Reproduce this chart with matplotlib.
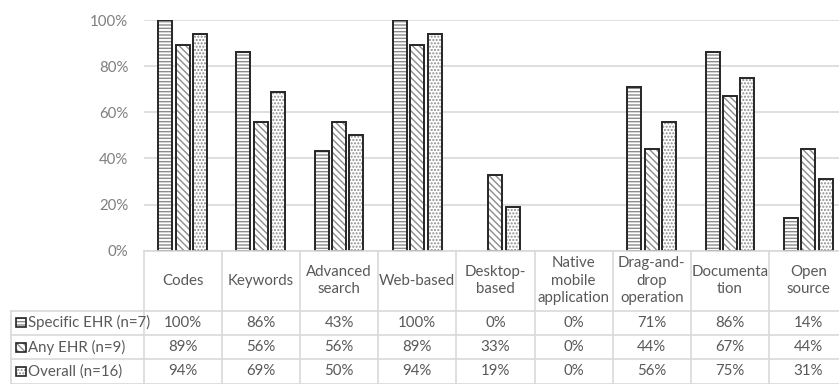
import matplotlib
matplotlib.use("Agg")
import matplotlib.pyplot as plt
import numpy as np
from matplotlib.patches import Rectangle
from matplotlib.lines import Line2D
from matplotlib.transforms import blended_transform_factory

plt.rcParams['font.family'] = ['Lato', 'DejaVu Sans']
plt.rcParams['hatch.linewidth'] = 1.0

categories = ["Codes", "Keywords", "Advanced\nsearch", "Web-based", "Desktop-\nbased",
              "Native\nmobile\napplication", "Drag-and-\ndrop\noperation",
              "Documenta\ntion", "Open\nsource"]
series_names = ["Specific EHR (n=7)", "Any EHR (n=9)", "Overall (n=16)"]
specific = [100, 86, 43, 100, 0, 0, 71, 86, 14]
any_ehr = [89, 56, 56, 89, 33, 0, 44, 67, 44]
overall = [94, 69, 50, 94, 19, 0, 56, 75, 31]
yticks = [0, 20, 40, 60, 80, 100]

W, H = 839, 384
fs = 10.8
hatches = ['-----', '\\\\\\\\\\', '.....']
hatch_col = '#8c8c8c'
edge_col = '#262626'
grid_col = '#d9d9d9'
txt_col = '#595959'

fig = plt.figure(figsize=(W / 100, H / 100), dpi=100)
ax = fig.add_axes([143.5 / W, 1 - 250.7 / H, 9 * 78.2 / W, (250.7 - 20) / H])

x = np.arange(len(categories))
pitch, width = 0.222, 0.18
for k, vals in enumerate([specific, any_ehr, overall]):
    vals = np.array(vals) / 100
    pos = x + (k - 1) * pitch
    lw = [0 if v == 0 else 1.4 for v in vals]
    ax.bar(pos, vals, width, color='white', edgecolor=hatch_col, hatch=hatches[k],
           linewidth=0, zorder=2)
    ax.bar(pos, vals, width, fill=False, edgecolor=edge_col, linewidth=lw, zorder=3)

ax.set_xlim(-0.5, len(categories) - 0.5)
ax.set_ylim(0, 1)
ax.set_yticks([t / 100 for t in yticks])
ax.set_yticklabels([f"{t}%" for t in yticks])
ax.tick_params(axis='y', length=0, pad=11, labelsize=fs, labelcolor='#7f7f7f')
ax.set_xticks([])
ax.grid(axis='y', color=grid_col, linewidth=1.2, zorder=0)
for s in ax.spines.values():
    s.set_visible(False)

# data table under the axis
def fy(px):
    return 1 - px / H

tr = blended_transform_factory(ax.transData, fig.transFigure)
row_lines = [310.7, 335.0, 359.3, 383.6]
xr = len(categories) + 1
fig.add_artist(Line2D([-0.5, xr], [fy(250.7)] * 2, transform=tr, color=grid_col, lw=1.2))
for yp in row_lines:
    fig.add_artist(Line2D([10.7 / W, 1.0], [fy(yp)] * 2, transform=fig.transFigure,
                          color=grid_col, lw=1.2))
for i in range(len(categories) + 1):
    fig.add_artist(Line2D([i - 0.5] * 2, [fy(250.7), 0], transform=tr, color=grid_col, lw=1.2))
fig.add_artist(Line2D([10.7 / W] * 2, [fy(310.7), 0], transform=fig.transFigure,
                      color=grid_col, lw=1.2))

for i, c in enumerate(categories):
    fig.text(i, fy(280.7), c, transform=tr, ha='center', va='center',
             fontsize=fs, color=txt_col, linespacing=1.32)

row_centers = [(row_lines[j] + row_lines[j + 1]) / 2 for j in range(3)]
for j, (name, vals) in enumerate(zip(series_names, [specific, any_ehr, overall])):
    yc = fy(row_centers[j])
    fig.add_artist(Rectangle((16 / W, yc - 4.5 / H), 10 / W, 9 / H, transform=fig.transFigure,
                             facecolor='white', edgecolor=hatch_col, hatch=hatches[j], lw=0))
    fig.add_artist(Rectangle((16 / W, yc - 4.5 / H), 10 / W, 9 / H, transform=fig.transFigure,
                             fill=False, edgecolor=edge_col, lw=1.2))
    fig.text(28 / W, yc, name, ha='left', va='center', fontsize=fs, color=txt_col)
    for i, v in enumerate(vals):
        fig.text(i, yc, f"{v}%", transform=tr, ha='center', va='center',
                 fontsize=fs, color=txt_col)

fig.savefig("out.png", dpi=100)
